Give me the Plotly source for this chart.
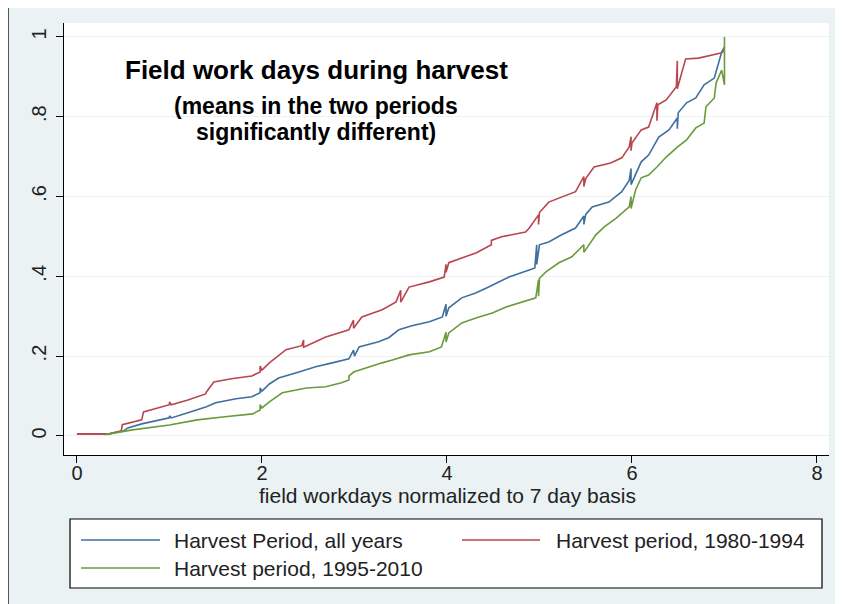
import plotly.graph_objects as go

# ---- data ----
x_all = [0, 0.35, 0.5, 0.55, 0.7, 1.0, 1.0, 1.02, 1.2, 1.4, 1.5, 1.72, 1.89, 1.98, 1.98, 2.0, 2.08, 2.18, 2.4, 2.58,
         2.76, 2.94, 2.99, 3.0, 3.05, 3.26, 3.37, 3.48, 3.62, 3.81, 3.95, 3.99, 3.99, 4.02, 4.16, 4.31, 4.45, 4.67,
         4.89, 4.95, 4.97, 4.97, 5.0, 5.10, 5.24, 5.39, 5.48, 5.48, 5.5, 5.57, 5.75, 5.89, 5.97, 5.99, 5.99, 6.10,
         6.18, 6.29, 6.40, 6.49, 6.49, 6.5, 6.59, 6.69, 6.78, 6.89, 6.97, 7.0]
y_all = [0.005, 0.005, 0.012, 0.02, 0.03, 0.045, 0.05, 0.045, 0.058, 0.073, 0.083, 0.093, 0.098, 0.108, 0.12, 0.112,
         0.130, 0.145, 0.160, 0.173, 0.183, 0.193, 0.215, 0.2, 0.223, 0.236, 0.246, 0.266, 0.276, 0.286, 0.298, 0.33,
         0.30, 0.321, 0.346, 0.358, 0.373, 0.398, 0.416, 0.421, 0.479, 0.43, 0.479, 0.486, 0.504, 0.521, 0.551, 0.53,
         0.555, 0.574, 0.586, 0.612, 0.64, 0.67, 0.63, 0.687, 0.704, 0.749, 0.767, 0.797, 0.77, 0.81, 0.835, 0.847,
         0.880, 0.897, 0.962, 0.975]

x_early = [0, 0.35, 0.48, 0.49, 0.7, 0.72, 1.0, 1.0, 1.02, 1.2, 1.39, 1.40, 1.48, 1.67, 1.89, 1.98, 1.98, 2.0, 2.08,
           2.26, 2.43, 2.45, 2.45, 2.69, 2.94, 2.99, 2.99, 3.08, 3.30, 3.45, 3.50, 3.50, 3.59, 3.81, 3.97, 3.99, 3.99,
           4.02, 4.16, 4.32, 4.48, 4.48, 4.59, 4.85, 4.89, 4.99, 4.99, 5.0, 5.10, 5.24, 5.39, 5.48, 5.48, 5.5, 5.59,
           5.77, 5.89, 5.97, 5.99, 5.99, 6.0, 6.10, 6.18, 6.27, 6.27, 6.28, 6.37, 6.48, 6.49, 6.49, 6.58, 6.72, 6.96, 7.0]
y_early = [0.005, 0.005, 0.013, 0.028, 0.04, 0.06, 0.078, 0.085, 0.078, 0.09, 0.105, 0.11, 0.135, 0.143, 0.15, 0.16,
           0.175, 0.165, 0.183, 0.216, 0.226, 0.24, 0.222, 0.248, 0.266, 0.29, 0.27, 0.298, 0.316, 0.336, 0.365,
           0.335, 0.373, 0.386, 0.398, 0.43, 0.41, 0.434, 0.446, 0.459, 0.479, 0.49, 0.499, 0.511, 0.521, 0.554,
           0.53, 0.56, 0.586, 0.599, 0.612, 0.65, 0.625, 0.645, 0.674, 0.684, 0.697, 0.724, 0.75, 0.715, 0.734,
           0.767, 0.774, 0.835, 0.79, 0.83, 0.842, 0.875, 0.94, 0.87, 0.945, 0.947, 0.960, 0.965]

x_late = [0.3, 0.6, 1.0, 1.3, 1.6, 1.9, 1.98, 1.98, 2.0, 2.08, 2.22, 2.48, 2.69, 2.86, 2.94, 2.94, 2.99, 3.12, 3.30,
          3.41, 3.59, 3.81, 3.94, 3.99, 3.99, 4.02, 4.16, 4.32, 4.49, 4.64, 4.89, 4.96, 4.99, 4.99, 5.0, 5.07, 5.21,
          5.35, 5.48, 5.48, 5.61, 5.70, 5.83, 5.97, 5.99, 5.99, 6.04, 6.10, 6.18, 6.27, 6.37, 6.49, 6.59, 6.69, 6.78,
          6.80, 6.89, 6.91, 6.97, 7.0, 7.0, 7.0]
y_late = [0.003, 0.015, 0.027, 0.04, 0.048, 0.055, 0.065, 0.078, 0.07, 0.085, 0.108, 0.120, 0.123, 0.133, 0.140,
          0.15, 0.160, 0.170, 0.183, 0.190, 0.203, 0.211, 0.223, 0.26, 0.235, 0.258, 0.283, 0.296, 0.308, 0.323,
          0.341, 0.346, 0.391, 0.35, 0.395, 0.411, 0.434, 0.449, 0.479, 0.46, 0.504, 0.524, 0.546, 0.574, 0.60,
          0.57, 0.617, 0.647, 0.654, 0.674, 0.699, 0.724, 0.742, 0.772, 0.784, 0.825, 0.847, 0.885, 0.917, 0.88,
          1.0, 0.92]

series_names = ["Harvest Period, all years", "Harvest period, 1980-1994", "Harvest period, 1995-2010"]
series_colors = ["#3f6f9f", "#b9454f", "#6a9a3c"]

x_ticks = [0, 2, 4, 6, 8]
y_ticks = [0, 0.2, 0.4, 0.6, 0.8, 1.0]
y_tick_labels = ["0", ".2", ".4", ".6", ".8", "1"]

FONT = "Liberation Sans, Arial, sans-serif"
BG = "#eaf2f3"
TXT = "#222222"

fig = go.Figure()
for xs, ys, name, col in zip([x_all, x_early, x_late], [y_all, y_early, y_late], series_names, series_colors):
    fig.add_trace(go.Scatter(x=xs, y=ys, mode="lines", name=name,
                             line=dict(color=col, width=1.6), showlegend=False))

# the page body adds an 8px margin, so the figure is shifted by OFF in both directions
OFF = 8
W, H = 843 - OFF, 604 - OFF
# plot area in screen pixels: x 64..829, y 23..455
L, R, T, B = 64 - OFF, 829 - OFF, 23 - OFF, 455 - OFF
def px(xp):
    return (xp - OFF - L) / (R - L)
def py(yp):
    return (B - (yp - OFF)) / (B - T)

fig.update_layout(
    width=W, height=H,
    margin=dict(l=L, r=W - R, t=T, b=H - B, autoexpand=False),
    paper_bgcolor=BG, plot_bgcolor="white",
    font=dict(family=FONT, size=20, color=TXT),
    showlegend=False,
    xaxis=dict(range=[-0.14, 8.13], tickvals=x_ticks, ticks="outside", ticklen=7, tickcolor="black",
               showline=True, linecolor="black", linewidth=1.2, showgrid=False, zeroline=False,
               ticklabelstandoff=-7,
               tickfont=dict(family=FONT, size=20, color=TXT)),
    yaxis=dict(range=[-0.048, 1.035], tickvals=y_ticks, ticktext=y_tick_labels, ticks="outside",
               ticklen=7, tickcolor="black", tickangle=-90, ticklabelstandoff=2,
               showline=True, linecolor="black", linewidth=1.2, showgrid=True, gridcolor=BG,
               gridwidth=1, zeroline=False,
               tickfont=dict(family=FONT, size=20, color=TXT)),
)

# axis title
fig.add_annotation(text="field workdays normalized to 7 day basis", xref="paper", yref="paper",
                   x=px(447), y=py(495), showarrow=False, xanchor="center", yanchor="middle",
                   font=dict(family=FONT, size=21, color=TXT))

# in-plot title text
fig.add_annotation(text="<b>Field work days during harvest</b>", xref="paper", yref="paper",
                   x=px(316), y=py(70), showarrow=False, xanchor="center", yanchor="middle",
                   font=dict(family=FONT, size=26, color="black"))
fig.add_annotation(text="<b>(means in the two periods</b>", xref="paper", yref="paper",
                   x=px(316), y=py(106), showarrow=False, xanchor="center", yanchor="middle",
                   font=dict(family=FONT, size=23, color="black"))
fig.add_annotation(text="<b>significantly different)</b>", xref="paper", yref="paper",
                   x=px(316), y=py(132), showarrow=False, xanchor="center", yanchor="middle",
                   font=dict(family=FONT, size=23, color="black"))

# legend (drawn by hand to match the two-column Stata layout)
fig.add_shape(type="rect", xref="paper", yref="paper", x0=px(70), y0=py(519), x1=px(822), y1=py(588),
              line=dict(color="black", width=1.2), fillcolor="white", layer="above")
legend_pos = [(81, 160, 172, 540), (462, 540, 554, 540), (81, 160, 172, 568)]
for (lx0, lx1, tx, ly), name, col in zip(legend_pos, series_names, series_colors):
    fig.add_shape(type="line", xref="paper", yref="paper", x0=px(lx0), y0=py(ly), x1=px(lx1), y1=py(ly),
                  line=dict(color=col, width=1.6), layer="above")
    fig.add_annotation(text=name, xref="paper", yref="paper", x=px(tx), y=py(ly), showarrow=False,
                       xanchor="left", yanchor="middle", font=dict(family=FONT, size=21, color=TXT))

# outer frame (top and left edges visible in the reference)
fig.add_shape(type="line", xref="paper", yref="paper", x0=px(8), y0=py(7), x1=px(843), y1=py(7),
              line=dict(color="#222222", width=1.5))
fig.add_shape(type="line", xref="paper", yref="paper", x0=px(8), y0=py(7), x1=px(8), y1=py(604),
              line=dict(color="#222222", width=1.5))

fig.write_html("out.html")
